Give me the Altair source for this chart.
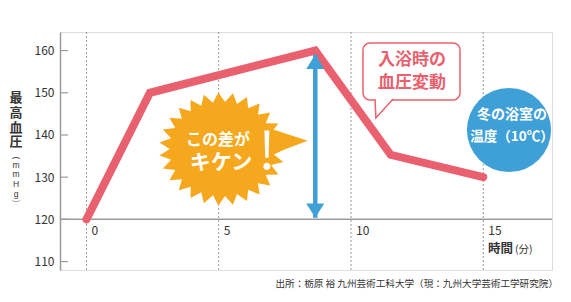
import altair as alt
import pandas as pd
import numpy as np

# ---- data ----
time_min = [0, 2.4, 8.65, 11.5, 15]
bp = [120, 150, 160, 135.3, 130]
x_ticks = [0, 5, 10, 15]
x_tick_labels = ["0", "5", "10", "15"]
y_ticks = [110, 120, 130, 140, 150, 160]
arrow_time = [8.65]
arrow_top = [159]
arrow_bottom = [120.4]

y_title_chars = ["最", "高", "血", "圧"]
y_unit_chars = ["︵", "m", "m", "H", "g", "︶"]
x_title = "時間"
x_unit = "(分)"
burst_lines = ["この差が", "キケン"]
burst_mark = ["!"]
bubble_lines = ["入浴時の", "血圧変動"]
circle_lines = ["冬の浴室の", "温度（10℃）"]
source = ["出所：栃原 裕 九州芸術工科大学（現：九州大学芸術工学研究院）"]

FONT = "Noto Sans CJK JP"
VFONT = "Liberation Sans, Noto Sans CJK JP"
PINK = "#E9606E"
BLUE = "#3FA0D8"
ORANGE = "#F5A81E"
GRAY = "#9a9a9a"
TXT = "#333333"

W, H = 492, 238
xs = alt.Scale(domain=[-1, 17.6], nice=False, zero=False)
ys = alt.Scale(domain=[108, 164.4], nice=False, zero=False)

line_df = pd.DataFrame({"t": time_min, "bp": bp})
grid_df = pd.DataFrame({"t": x_ticks, "lab": x_tick_labels})
ytick_df = pd.DataFrame({"v": y_ticks})
arrow_df = pd.DataFrame({"t": arrow_time, "top": arrow_top, "bot": arrow_bottom})

# vertical title layout (pixel rows)
yt_df = pd.DataFrame({"s": y_title_chars,
                      "py": [66 + 14.8 * i for i in range(len(y_title_chars))]})
yu_df = pd.DataFrame({"s": y_unit_chars,
                      "py": [123 + 9.7 * i for i in range(len(y_unit_chars))]})

# starburst geometry (decoration)
n = 27
pts = []
for i in range(2 * n):
    ang = np.pi * i / n
    r = 1.0 if i % 2 == 0 else 0.83
    pts.append((r * np.cos(ang), 0.9 * r * np.sin(ang)))
burst_path = "M" + " L".join(f"{a:.3f},{b:.3f}" for a, b in pts) + " Z"
tail_path = "M 0.75,-0.33 L 1.36,-0.13 L 0.75,0.1 Z"
head_up = "M -1,0.8 L 1,0.8 L 0,-0.8 Z"
head_down = "M -1,-0.8 L 1,-0.8 L 0,0.8 Z"
bubble_tail = "M -1,-1.1 L -0.9,1 L 1,-1.1"

one = pd.DataFrame({"k": [0]})

grid = alt.Chart(grid_df).mark_rule(color=GRAY, strokeDash=[2, 2], strokeWidth=1).encode(
    x=alt.X("t:Q", scale=xs, axis=None), y=alt.value(0), y2=alt.value(H))

xlabels = alt.Chart(grid_df).mark_text(align="left", baseline="middle", dx=5, dy=12,
                                       font=FONT, fontSize=12, color=TXT).encode(
    x=alt.X("t:Q", scale=xs, axis=None), y=alt.datum(120, scale=ys), text="lab:N")

xaxis = alt.Chart(one).mark_rule(color=GRAY, strokeWidth=1.5).encode(
    x=alt.value(0), x2=alt.value(W), y=alt.datum(120, scale=ys))

yticks = alt.Chart(ytick_df).mark_rule(color=GRAY, strokeWidth=1.2).encode(
    x=alt.value(0), x2=alt.value(8),
    y=alt.Y("v:Q", scale=ys,
            axis=alt.Axis(values=y_ticks, tickSize=0, labelPadding=6, grid=False,
                          domainColor=GRAY, domainWidth=1.5, labelFont=FONT,
                          labelFontSize=12, labelColor=TXT, title=None)))

line = alt.Chart(line_df).mark_line(color=PINK, strokeWidth=8, strokeCap="round",
                                     strokeJoin="miter").encode(
    x=alt.X("t:Q", scale=xs, axis=None), y=alt.Y("bp:Q", scale=ys))

burst = alt.Chart(one).mark_point(shape=burst_path, filled=True, fill=ORANGE, opacity=1,
                                   strokeWidth=0, size=126 * 126).encode(
    x=alt.value(162), y=alt.value(117))
btail = alt.Chart(one).mark_point(shape=tail_path, filled=True, fill=ORANGE, opacity=1,
                                   strokeWidth=0, size=126 * 126).encode(
    x=alt.value(162), y=alt.value(117))
btxt1 = alt.Chart(pd.DataFrame({"s": [burst_lines[0]]})).mark_text(
    font=VFONT, fontSize=16, fontWeight="bold", color="white").encode(
    x=alt.value(158), y=alt.value(108), text="s:N")
btxt2 = alt.Chart(pd.DataFrame({"s": [burst_lines[1]]})).mark_text(
    font=VFONT, fontSize=21, fontWeight="bold", color="white").encode(
    x=alt.value(161), y=alt.value(131), text="s:N")
btxt3 = alt.Chart(pd.DataFrame({"s": burst_mark})).mark_text(
    font=FONT, fontSize=52, fontWeight="normal", color="white").encode(
    x=alt.value(207), y=alt.value(121), text="s:N")

shaft = alt.Chart(arrow_df).mark_rule(color=BLUE, strokeWidth=4.5).encode(
    x=alt.X("t:Q", scale=xs, axis=None), y=alt.Y("top:Q", scale=ys), y2="bot:Q")
hup = alt.Chart(arrow_df).mark_point(shape=head_up, filled=True, fill=BLUE, opacity=1,
                                      strokeWidth=0, size=324, yOffset=7).encode(
    x=alt.X("t:Q", scale=xs, axis=None), y=alt.Y("top:Q", scale=ys))
hdn = alt.Chart(arrow_df).mark_point(shape=head_down, filled=True, fill=BLUE, opacity=1,
                                      strokeWidth=0, size=324, yOffset=-7).encode(
    x=alt.X("t:Q", scale=xs, axis=None), y=alt.Y("bot:Q", scale=ys))

bubble = alt.Chart(one).mark_rect(fill="white", stroke=PINK, strokeWidth=1.5,
                                   cornerRadius=7).encode(
    x=alt.value(303), x2=alt.value(400), y=alt.value(11), y2=alt.value(68))
btail2 = alt.Chart(one).mark_point(shape=bubble_tail, filled=False, fill="white",
                                    fillOpacity=1, stroke=PINK, strokeWidth=1.5, opacity=1,
                                    size=324).encode(x=alt.value(324), y=alt.value(77))
bub1 = alt.Chart(pd.DataFrame({"s": [bubble_lines[0]]})).mark_text(
    font=FONT, fontSize=17, fontWeight="bold", color=PINK).encode(
    x=alt.value(352), y=alt.value(28), text="s:N")
bub2 = alt.Chart(pd.DataFrame({"s": [bubble_lines[1]]})).mark_text(
    font=FONT, fontSize=17, fontWeight="bold", color=PINK).encode(
    x=alt.value(352), y=alt.value(51), text="s:N")

circle = alt.Chart(one).mark_point(shape="circle", filled=True, fill=BLUE, opacity=1,
                                    strokeWidth=0, size=7088).encode(
    x=alt.value(449), y=alt.value(98))
c1 = alt.Chart(pd.DataFrame({"s": [circle_lines[0]]})).mark_text(
    font=FONT, fontSize=14, fontWeight="bold", color="white").encode(
    x=alt.value(452), y=alt.value(83), text="s:N")
c2 = alt.Chart(pd.DataFrame({"s": [circle_lines[1]]})).mark_text(
    font=FONT, fontSize=13.5, fontWeight="bold", color="white").encode(
    x=alt.value(452), y=alt.value(105), text="s:N")

yt = alt.Chart(yt_df).mark_text(
    font=VFONT, fontSize=13, fontWeight="bold", color=TXT, baseline="middle").encode(
    x=alt.value(-44), y=alt.Y("py:Q", scale=None), text="s:N")
yu = alt.Chart(yu_df).mark_text(
    font=VFONT, fontSize=8.5, color=TXT, baseline="middle").encode(
    x=alt.value(-44), y=alt.Y("py:Q", scale=None), text="s:N")

xt = alt.Chart(pd.DataFrame({"s": [x_title]})).mark_text(
    font=FONT, fontSize=12.5, fontWeight="bold", color=TXT, align="left",
    baseline="middle").encode(x=alt.value(428), y=alt.value(217), text="s:N")
xu = alt.Chart(pd.DataFrame({"s": [x_unit]})).mark_text(
    font=FONT, fontSize=10.5, color=TXT, align="left",
    baseline="middle").encode(x=alt.value(455), y=alt.value(218), text="s:N")

src = alt.Chart(pd.DataFrame({"s": source})).mark_text(
    font=FONT, fontSize=9.6, color=TXT, align="right",
    baseline="middle").encode(x=alt.value(498), y=alt.value(252), text="s:N")

chart = alt.layer(
    grid, xaxis, yticks, xlabels, line, burst, btail, btxt1, btxt2, btxt3,
    shaft, hup, hdn, bubble, btail2, bub1, bub2, circle, c1, c2, yt, yu, xt, xu, src
).properties(
    width=W, height=H,
    autosize=alt.AutoSizeParams(type="none"),
    padding={"left": 60, "top": 32, "right": 19, "bottom": 32},
).configure_view(stroke=None).configure(background="white")

chart.save("out.html", embed_options={"renderer": "svg", "actions": False})
